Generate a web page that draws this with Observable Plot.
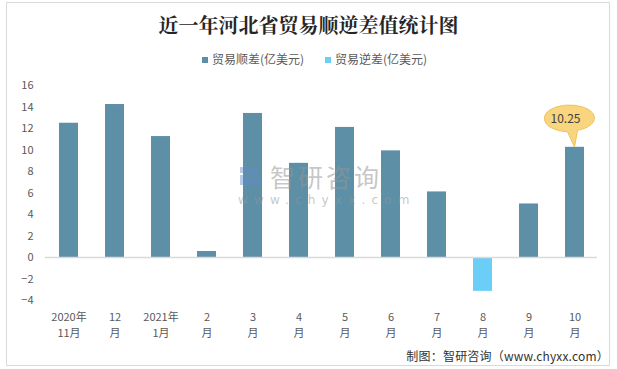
<!DOCTYPE html>
<html>
<head>
<meta charset="utf-8">
<script src="https://cdn.jsdelivr.net/npm/d3@7"></script>
<script src="https://cdn.jsdelivr.net/npm/@observablehq/plot@0.6"></script>
<style>
  html, body { margin: 0; padding: 0; background: #fff; }
  #wrap { position: relative; width: 617px; height: 369px; overflow: hidden; font-family: "Microsoft YaHei", "Noto Sans CJK SC", sans-serif; }
  #border { position: absolute; left: 6px; top: 2px; width: 604px; height: 364px; border: 1px solid #d9d9d9; box-sizing: border-box; }
  #title { position: absolute; left: 0; top: 11px; width: 617px; text-align: center; font-family: "Noto Serif CJK SC", "Noto Sans CJK SC", serif; font-weight: bold; font-size: 20px; color: #262626; line-height: 28px; }
  #legend { position: absolute; top: 51px; left: 0; width: 617px; font-size: 12px; color: #595959; line-height: 16px; }
  .lg { position: absolute; top: 0; white-space: nowrap; }
  .sw { display: inline-block; width: 6px; height: 6px; margin-right: 4px; vertical-align: 1px; }
  #chart { position: absolute; left: 0; top: 72px; }
  #caption { position: absolute; right: 8px; top: 347px; font-size: 12px; color: #333; font-family: "Noto Sans CJK SC", sans-serif; letter-spacing: 0.2px; }
  #wm { position: absolute; left: 238px; top: 162px; color: rgba(150,150,150,0.55); pointer-events: none; }
  #wm .cn { position: absolute; left: 32px; top: 0; font-size: 25px; letter-spacing: 3px; white-space: nowrap; line-height: 28px; font-family: "Noto Sans CJK SC", sans-serif; }
  #wm .url { position: absolute; left: 0; top: 31px; font-size: 12px; letter-spacing: 6.2px; white-space: nowrap; font-family: "DejaVu Sans", sans-serif; }
  #wm .logo { position: absolute; left: 0; top: 3px; width: 24px; height: 22px; }
</style>
</head>
<body>
<div id="wrap">
  <div id="border"></div>
  <div id="title">近一年河北省贸易顺逆差值统计图</div>
  <div id="legend"></div>
  <div id="chart"></div>
  <div id="wm">
    <svg class="logo" viewBox="0 0 24 22"><path d="M2 2 H20 V10 H8 V12 H22 V20 H2 V10 H14 V8 H2 Z" fill="rgba(100,140,200,0.45)"/></svg>
    <div class="cn">智研咨询</div>
    <div class="url">www.chyxx.com</div>
  </div>
  <div id="caption">制图：智研咨询（www.chyxx.com）</div>
</div>
<script>
const months = ["2020年\n11月", "12\n月", "2021年\n1月", "2\n月", "3\n月", "4\n月", "5\n月", "6\n月", "7\n月", "8\n月", "9\n月", "10\n月"];
const values = [12.49, 14.23, 11.25, 0.56, 13.4, 8.76, 12.1, 9.92, 6.1, -3.15, 4.98, 10.25];
const seriesNames = ["贸易顺差(亿美元)", "贸易逆差(亿美元)"];
const seriesColors = ["#5d8fa6", "#6acef6"];
const yTicks = [-4, -2, 0, 2, 4, 6, 8, 10, 12, 14, 16];
const calloutMonth = "10\n月";
const calloutValue = 10.25;
const calloutLabel = "10.25";

const data = months.map((m, i) => ({month: m, value: values[i], series: values[i] >= 0 ? seriesNames[0] : seriesNames[1]}));

// legend
const legend = document.getElementById("legend");
const legendX = [202, 325];
seriesNames.forEach((n, i) => {
  const d = document.createElement("div");
  d.className = "lg";
  d.style.left = legendX[i] + "px";
  d.innerHTML = `<span class="sw" style="background:${seriesColors[i]}"></span>${n}`;
  legend.appendChild(d);
});

const callout = (index, scales, values, dims) => {
  const x = scales.x(calloutMonth) + scales.x.bandwidth() / 2;
  const vy = scales.y(calloutValue);
  const cx = x - 9, cy = vy - 28;
  const g = d3.create("svg:g");
  g.append("path")
    .attr("d", `M${cx - 21},${cy} A25,13 0 1,1 ${cx + 12},${cy + 11.5} L${x},${vy} L${cx + 2},${cy + 13} A25,13 0 0,1 ${cx - 21},${cy}`)
    .attr("fill", "#f8d57e").attr("stroke", "#ecc45e").attr("stroke-width", 1);
  g.append("text").attr("x", cx).attr("y", cy).attr("dy", "0.35em")
    .attr("text-anchor", "middle").attr("font-size", 12).attr("fill", "#404040")
    .attr("font-family", "Noto Sans CJK SC, sans-serif").text(calloutLabel);
  return g.node();
};

const chart = Plot.plot({
  width: 617,
  height: 274,
  marginLeft: 45,
  marginRight: 20,
  marginTop: 13,
  marginBottom: 46,
  style: { fontFamily: "Noto Sans CJK SC, sans-serif", fontSize: "11px", color: "#595959", background: "transparent" },
  x: { domain: months, paddingInner: 0.59, paddingOuter: 0.295, label: null },
  y: { domain: [-4, 16], label: null },
  color: { domain: seriesNames, range: seriesColors },
  marks: [
    Plot.axisY({ ticks: yTicks, tickSize: 0, tickPadding: 12, fontSize: 11, fill: "#595959", label: null }),
    Plot.axisX({ tickSize: 0, tickPadding: 9, lineHeight: 1.45, fontSize: 11, fill: "#595959", label: null }),
    Plot.barY(data, { x: "month", y: "value", fill: "series" }),
    Plot.ruleY([0], { stroke: "#d9d9d9", strokeWidth: 1.5 }),
    callout
  ]
});
document.getElementById("chart").appendChild(chart);
</script>
</body>
</html>
